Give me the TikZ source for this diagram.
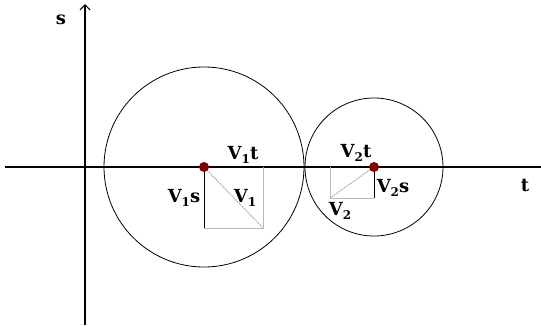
\documentclass[tikz,border=0pt]{standalone}
\usepackage{fontspec}
\setmainfont{DejaVu Serif}
\usetikzlibrary{arrows.meta}
\newcommand\lowsub[1]{\raisebox{-0.4ex}{\fontsize{12}{12}\selectfont #1}}
\begin{document}
\begin{tikzpicture}[x=1pt,y=-1pt,
  axis/.style={black,line width=1.2pt},
  circ/.style={black,line width=0.8pt},
  guide/.style={gray!55,line width=1pt},
  comp/.style={black,line width=1pt},
  diag/.style={gray!70,line width=1pt,dash pattern=on 1.5pt off 1pt},
  dot/.style={circle,fill={rgb,255:red,128;green,0;blue,0},inner sep=0pt,minimum size=10pt},
  lbl/.style={font=\fontsize{18}{18}\selectfont\bfseries,inner sep=1pt}]
\useasboundingbox[fill=white] (0,0) rectangle (541,325);
% axes
\coordinate (xl) at (5,167);
\coordinate (xr) at (541,167);
\coordinate (yb) at (85,325);
\coordinate (yt) at (85,4);
\draw[axis] (xl) -- (xr);
\draw[axis,-{Straight Barb[length=5pt,width=10pt]}] (yb) -- (yt);
\node[lbl] (s) at (61,20) {s};
\node[lbl] (t) at (525,185) {t};
% circles
\coordinate (o1) at (204,167);
\coordinate (o2) at (374,167);
\draw[circ] (o1) circle (100);
\draw[circ] (o2) circle (69);
% box 1
\coordinate (a1) at (204,228);
\coordinate (b1) at (263,228);
\coordinate (d1) at (263,167);
\draw[guide] (a1) -- (b1) -- (d1);
\draw[diag] (o1) -- (b1);
\draw[comp] (o1) -- (a1);
% box 2
\coordinate (a2) at (374,198);
\coordinate (b2) at (330,198);
\coordinate (d2) at (330,167);
\draw[guide] (a2) -- (b2) -- (d2);
\draw[diag] (o2) -- (b2);
\draw[comp] (o2) -- (a2);
% dots
\node[dot] (c1) at (o1) {};
\node[dot] (c2) at (o2) {};
% labels
\node[lbl] (v1t) at (243,155) {V\lowsub{1}t};
\node[lbl] (v1s) at (184,198) {V\lowsub{1}s};
\node[lbl] (v1) at (245,198) {V\lowsub{1}};
\node[lbl] (v2t) at (356,153) {V\lowsub{2}t};
\node[lbl] (v2s) at (393,188) {V\lowsub{2}s};
\node[lbl] (v2) at (340,211) {V\lowsub{2}};
\end{tikzpicture}
\end{document}
